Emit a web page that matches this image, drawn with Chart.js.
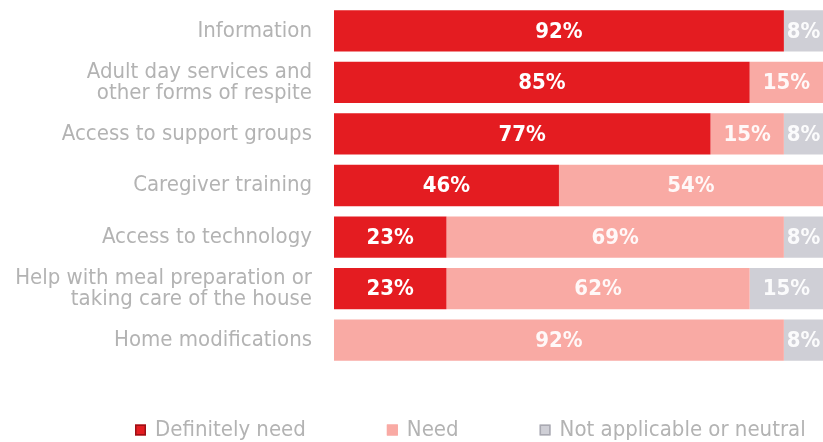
<!DOCTYPE html>
<html><head><meta charset="utf-8">
<script src="https://cdn.jsdelivr.net/npm/chart.js@4"></script>
<style>html,body{margin:0;padding:0;background:#fff}#wrap{width:823px;height:442px}</style>
</head><body><div id="wrap"><canvas id="c"></canvas></div>
<script>
const categories = [
  "Information",
  ["Adult day services and","other forms of respite"],
  "Access to support groups",
  "Caregiver training",
  "Access to technology",
  ["Help with meal preparation or","taking care of the house"],
  "Home modifications"
];
const definitelyNeed = [92, 85, 77, 46, 23, 23, 0];
const need = [0, 15, 15, 54, 69, 62, 92];
const notApplicable = [8, 0, 8, 0, 8, 15, 8];
const seriesNames = ["Definitely need", "Need", "Not applicable or neutral"];

const colors = ["#e41c21", "#f9aaa4", "#cfcfd6"];
const legendBorders = ["#9c1016", "#f9aaa4", "#a9a9b2"];
const FONT = "'DejaVu Sans Condensed', 'Liberation Sans Narrow', sans-serif";

const labelPlugin = {
  id: 'segLabels',
  afterDatasetsDraw(chart) {
    const ctx = chart.ctx;
    ctx.save();
    ctx.textAlign = 'center';
    ctx.textBaseline = 'middle';
    chart.data.datasets.forEach((ds, di) => {
      const meta = chart.getDatasetMeta(di);
      meta.data.forEach((bar, i) => {
        const v = ds.data[i];
        if (!v) return;
        const x = (bar.x + bar.base) / 2;
        ctx.font = "bold 22px " + FONT;
        ctx.fillStyle = di === 0 ? "#ffffff" : "rgba(255,255,255,0.92)";
        ctx.fillText(v + "%", x, bar.y + 1);
      });
    });
    ctx.restore();
  }
};

const legendPlugin = {
  id: 'customLegend',
  afterDraw(chart) {
    const ctx = chart.ctx;
    ctx.save();
    ctx.font = "22px " + FONT;
    ctx.textBaseline = 'middle';
    const y = 430;
    const box = 11, gapText = 9, gapItem = 81;
    const widths = seriesNames.map(t => box + gapText + ctx.measureText(t).width);
    let x = 135;
    seriesNames.forEach((t, i) => {
      ctx.fillStyle = colors[i];
      ctx.strokeStyle = legendBorders[i];
      ctx.lineWidth = 1.5;
      ctx.fillRect(x, y - box / 2, box, box);
      ctx.strokeRect(x + 0.75, y - box / 2 + 0.75, box - 1.5, box - 1.5);
      ctx.fillStyle = "#b3b3b3";
      ctx.fillText(t, x + box + gapText, y);
      x += widths[i] + gapItem;
    });
    ctx.restore();
  }
};

new Chart(document.getElementById('c'), {
  type: 'bar',
  data: {
    labels: categories,
    datasets: [
      { label: seriesNames[0], data: definitelyNeed, backgroundColor: colors[0] },
      { label: seriesNames[1], data: need, backgroundColor: colors[1] },
      { label: seriesNames[2], data: notApplicable, backgroundColor: colors[2] }
    ]
  },
  options: {
    indexAxis: 'y',
    responsive: true,
    maintainAspectRatio: false,
    animation: false,
    categoryPercentage: 0.8,
    barPercentage: 1.0,
    layout: { padding: { top: 5, bottom: 76, left: 0, right: 0 } },
    plugins: { legend: { display: false }, tooltip: { enabled: false } },
    scales: {
      x: { stacked: true, min: 0, max: 100, display: false },
      y: {
        stacked: true,
        grid: { display: false, drawTicks: false },
        border: { display: false },
        ticks: { color: "#b3b3b3", padding: 22, font: { family: FONT, size: 22, lineHeight: 0.96 } },
        afterFit(scale) { scale.width = 334; scale.paddingTop = 0; scale.paddingBottom = 0; }
      }
    }
  },
  plugins: [labelPlugin, legendPlugin]
});
</script></body></html>
